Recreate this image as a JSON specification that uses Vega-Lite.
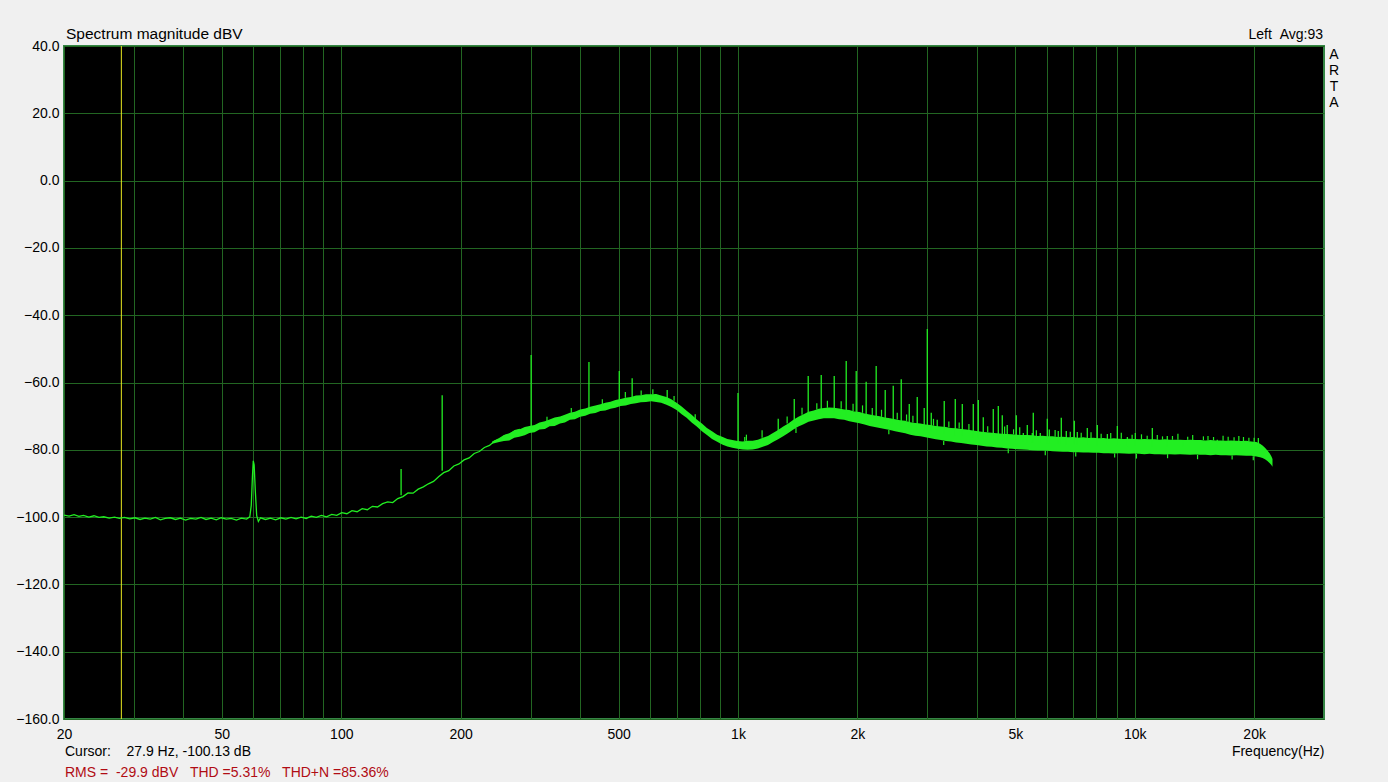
{
  "$schema": "https://vega.github.io/schema/vega-lite/v6.json",
  "width": 1260,
  "height": 673,
  "autosize": {"type": "none"},
  "padding": {"left": 64, "top": 46, "right": 64, "bottom": 63},
  "background": "#f0f0f0",
  "config": {
    "font": "Liberation Sans",
    "view": {"fill": "#000000", "stroke": "#358545", "strokeWidth": 2},
    "axis": {
      "domain": false,
      "ticks": false,
      "grid": true,
      "gridColor": "#226622",
      "gridOpacity": 1,
      "gridWidth": 1,
      "labelFont": "Liberation Sans",
      "labelFontSize": 14,
      "labelColor": "#000000",
      "titleFont": "Liberation Sans",
      "titleFontSize": 14,
      "titleFontWeight": "normal",
      "titleColor": "#000000"
    }
  },
  "datasets": {
    "low": [
      {"f": 20, "v": -99.4}, {"f": 20.6, "v": -99.7}, {"f": 21.2, "v": -99.3}, {"f": 21.8, "v": -99.8},
      {"f": 22.4, "v": -99.5}, {"f": 23.1, "v": -100.0}, {"f": 23.8, "v": -99.6}, {"f": 24.5, "v": -100.1},
      {"f": 25.2, "v": -99.9}, {"f": 26, "v": -100.3}, {"f": 26.8, "v": -100.0}, {"f": 27.6, "v": -100.4},
      {"f": 28.4, "v": -100.1}, {"f": 29.3, "v": -100.5}, {"f": 30.2, "v": -100.2}, {"f": 31.1, "v": -100.7},
      {"f": 32, "v": -100.3}, {"f": 33, "v": -100.6}, {"f": 34, "v": -100.1}, {"f": 35, "v": -100.8},
      {"f": 36, "v": -100.4}, {"f": 37.1, "v": -100.2}, {"f": 38.2, "v": -100.7}, {"f": 39.3, "v": -100.3},
      {"f": 40.5, "v": -100.9}, {"f": 41.7, "v": -100.4}, {"f": 43, "v": -100.6}, {"f": 44.3, "v": -100.1},
      {"f": 45.6, "v": -100.7}, {"f": 47, "v": -100.3}, {"f": 48.4, "v": -100.8}, {"f": 49.8, "v": -100.2},
      {"f": 51.3, "v": -100.6}, {"f": 52.8, "v": -100.4}, {"f": 54.4, "v": -100.9}, {"f": 56, "v": -100.3},
      {"f": 57.7, "v": -100.6}, {"f": 58.8, "v": -99.9}, {"f": 59.3, "v": -96.5}, {"f": 59.7, "v": -88},
      {"f": 60, "v": -83.3}, {"f": 60.3, "v": -84.5}, {"f": 60.7, "v": -92}, {"f": 61.2, "v": -99.6},
      {"f": 61.8, "v": -101.3}, {"f": 62.6, "v": -100.2}, {"f": 64.4, "v": -100.7}, {"f": 66.3, "v": -100.3},
      {"f": 68.3, "v": -100.8}, {"f": 70.4, "v": -100.2}, {"f": 72.5, "v": -100.6}, {"f": 74.7, "v": -100.1},
      {"f": 76.9, "v": -100.5}, {"f": 79.2, "v": -100.0}, {"f": 81.6, "v": -100.4}, {"f": 84, "v": -99.7},
      {"f": 86.5, "v": -100.1}, {"f": 89.1, "v": -99.5}, {"f": 91.8, "v": -99.9}, {"f": 94.6, "v": -99.2},
      {"f": 97.4, "v": -99.5}, {"f": 100.3, "v": -98.7}, {"f": 103.3, "v": -99.0}, {"f": 106.4, "v": -98.1},
      {"f": 109.6, "v": -98.4}, {"f": 112.9, "v": -97.5}, {"f": 116.3, "v": -97.8}, {"f": 119.8, "v": -96.8},
      {"f": 123.4, "v": -97.0}, {"f": 127.1, "v": -96.0}, {"f": 130.9, "v": -95.5}, {"f": 134.8, "v": -95.7},
      {"f": 138.8, "v": -94.5}, {"f": 143, "v": -93.9}, {"f": 147.3, "v": -92.8}, {"f": 151.7, "v": -92.9},
      {"f": 156.3, "v": -91.7}, {"f": 161, "v": -91.0}, {"f": 165.8, "v": -90.1}, {"f": 170.8, "v": -89.4},
      {"f": 175.9, "v": -88.0}, {"f": 181.2, "v": -86.8}, {"f": 186.6, "v": -86.2}, {"f": 192.2, "v": -84.8},
      {"f": 198, "v": -84.2}, {"f": 203.9, "v": -83.0}, {"f": 210, "v": -82.4}, {"f": 216.3, "v": -81.1},
      {"f": 222.8, "v": -80.5}, {"f": 229.5, "v": -79.3}, {"f": 236.4, "v": -78.7}, {"f": 243.5, "v": -77.4},
      {"f": 250.8, "v": -76.9}, {"f": 258.3, "v": -75.8}, {"f": 266, "v": -75.4}, {"f": 274, "v": -74.3},
      {"f": 282, "v": -73.9}
    ],
    "band": [
      {"f": 240, "lo": -78.2, "hi": -77.5}, {"f": 250, "lo": -77.7, "hi": -76.5}, {"f": 257, "lo": -77.4, "hi": -75.6}, {"f": 265, "lo": -77.2, "hi": -75.1},
      {"f": 273, "lo": -76.4, "hi": -74.3}, {"f": 281, "lo": -76.1, "hi": -74.0}, {"f": 290, "lo": -75.7, "hi": -73.2},
      {"f": 298, "lo": -75.0, "hi": -72.9}, {"f": 307, "lo": -74.8, "hi": -72.6}, {"f": 316, "lo": -74.0, "hi": -71.9},
      {"f": 326, "lo": -73.8, "hi": -71.5}, {"f": 335, "lo": -73.0, "hi": -71.0}, {"f": 345, "lo": -72.9, "hi": -70.4},
      {"f": 356, "lo": -72.2, "hi": -70.1}, {"f": 366, "lo": -71.9, "hi": -69.6}, {"f": 377, "lo": -71.1, "hi": -69.0},
      {"f": 388, "lo": -70.9, "hi": -68.7}, {"f": 400, "lo": -70.2, "hi": -68.0}, {"f": 412, "lo": -69.9, "hi": -67.7},
      {"f": 424, "lo": -69.3, "hi": -67.2}, {"f": 437, "lo": -69.1, "hi": -66.8}, {"f": 450, "lo": -68.5, "hi": -66.5},
      {"f": 463, "lo": -68.3, "hi": -66.0}, {"f": 477, "lo": -67.8, "hi": -65.7}, {"f": 491, "lo": -67.5, "hi": -65.2},
      {"f": 506, "lo": -67.0, "hi": -64.9}, {"f": 521, "lo": -66.8, "hi": -64.5}, {"f": 537, "lo": -66.4, "hi": -64.3},
      {"f": 553, "lo": -66.2, "hi": -63.9}, {"f": 569, "lo": -65.9, "hi": -63.8}, {"f": 586, "lo": -65.8, "hi": -63.5},
      {"f": 604, "lo": -65.6, "hi": -63.5}, {"f": 622, "lo": -65.8, "hi": -63.4}, {"f": 640, "lo": -66.0, "hi": -63.9},
      {"f": 660, "lo": -66.6, "hi": -64.3}, {"f": 679, "lo": -67.3, "hi": -65.0}, {"f": 700, "lo": -68.2, "hi": -66.0},
      {"f": 721, "lo": -69.4, "hi": -67.1}, {"f": 742, "lo": -70.5, "hi": -68.4}, {"f": 764, "lo": -71.9, "hi": -69.6},
      {"f": 787, "lo": -73.1, "hi": -71.0}, {"f": 811, "lo": -74.5, "hi": -72.2}, {"f": 835, "lo": -75.6, "hi": -73.5},
      {"f": 860, "lo": -76.8, "hi": -74.5}, {"f": 886, "lo": -77.6, "hi": -75.5}, {"f": 912, "lo": -78.4, "hi": -76.1},
      {"f": 940, "lo": -79.0, "hi": -76.8}, {"f": 968, "lo": -79.4, "hi": -77.1}, {"f": 997, "lo": -79.7, "hi": -77.4},
      {"f": 1027, "lo": -79.9, "hi": -77.5}, {"f": 1057, "lo": -80.0, "hi": -77.3}, {"f": 1089, "lo": -79.9, "hi": -77.3},
      {"f": 1122, "lo": -79.6, "hi": -77.0}, {"f": 1155, "lo": -79.1, "hi": -76.4}, {"f": 1190, "lo": -78.6, "hi": -75.9},
      {"f": 1225, "lo": -77.7, "hi": -75.0}, {"f": 1262, "lo": -76.9, "hi": -74.1}, {"f": 1300, "lo": -76.0, "hi": -73.1},
      {"f": 1339, "lo": -75.0, "hi": -72.2}, {"f": 1379, "lo": -74.0, "hi": -71.1}, {"f": 1420, "lo": -73.1, "hi": -70.2},
      {"f": 1463, "lo": -72.4, "hi": -69.4}, {"f": 1506, "lo": -71.7, "hi": -68.7}, {"f": 1552, "lo": -71.3, "hi": -68.3},
      {"f": 1598, "lo": -70.9, "hi": -67.8}, {"f": 1646, "lo": -70.6, "hi": -67.6}, {"f": 1695, "lo": -70.6, "hi": -67.4},
      {"f": 1746, "lo": -70.6, "hi": -67.5}, {"f": 1798, "lo": -70.9, "hi": -67.7}, {"f": 1852, "lo": -71.1, "hi": -68.0},
      {"f": 1908, "lo": -71.5, "hi": -68.2}, {"f": 1965, "lo": -71.8, "hi": -68.6}, {"f": 2024, "lo": -72.1, "hi": -68.8},
      {"f": 2084, "lo": -72.5, "hi": -69.2}, {"f": 2147, "lo": -72.9, "hi": -69.5}, {"f": 2211, "lo": -73.2, "hi": -69.8},
      {"f": 2277, "lo": -73.5, "hi": -70.0}, {"f": 2345, "lo": -73.8, "hi": -70.4}, {"f": 2416, "lo": -74.1, "hi": -70.6},
      {"f": 2488, "lo": -74.5, "hi": -70.9}, {"f": 2562, "lo": -74.8, "hi": -71.2}, {"f": 2639, "lo": -75.1, "hi": -71.4},
      {"f": 2718, "lo": -75.5, "hi": -71.8}, {"f": 2800, "lo": -75.8, "hi": -72.0}, {"f": 2884, "lo": -76.0, "hi": -72.2},
      {"f": 2970, "lo": -76.3, "hi": -72.5}, {"f": 3059, "lo": -76.6, "hi": -72.6}, {"f": 3151, "lo": -76.9, "hi": -72.9},
      {"f": 3245, "lo": -77.1, "hi": -73.1}, {"f": 3342, "lo": -77.4, "hi": -73.2}, {"f": 3442, "lo": -77.5, "hi": -73.5},
      {"f": 3546, "lo": -77.8, "hi": -73.6}, {"f": 3652, "lo": -78.0, "hi": -73.8}, {"f": 3761, "lo": -78.2, "hi": -74.0},
      {"f": 3874, "lo": -78.4, "hi": -74.2}, {"f": 3990, "lo": -78.6, "hi": -74.4}, {"f": 4110, "lo": -78.8, "hi": -74.6},
      {"f": 4233, "lo": -79.0, "hi": -74.8}, {"f": 4360, "lo": -79.1, "hi": -74.9}, {"f": 4490, "lo": -79.3, "hi": -75.1},
      {"f": 4625, "lo": -79.4, "hi": -75.2}, {"f": 4764, "lo": -79.6, "hi": -75.3}, {"f": 4906, "lo": -79.7, "hi": -75.4},
      {"f": 5053, "lo": -79.8, "hi": -75.5}, {"f": 5205, "lo": -79.9, "hi": -75.6}, {"f": 5361, "lo": -80.0, "hi": -75.6},
      {"f": 5521, "lo": -80.1, "hi": -75.7}, {"f": 5687, "lo": -80.2, "hi": -75.9}, {"f": 5857, "lo": -80.2, "hi": -75.8},
      {"f": 6033, "lo": -80.3, "hi": -76.0}, {"f": 6214, "lo": -80.4, "hi": -76.0}, {"f": 6400, "lo": -80.5, "hi": -76.2},
      {"f": 6592, "lo": -80.6, "hi": -76.1}, {"f": 6790, "lo": -80.6, "hi": -76.3}, {"f": 6993, "lo": -80.7, "hi": -76.2},
      {"f": 7203, "lo": -80.7, "hi": -76.4}, {"f": 7419, "lo": -80.8, "hi": -76.3}, {"f": 7641, "lo": -80.8, "hi": -76.5},
      {"f": 7871, "lo": -80.9, "hi": -76.4}, {"f": 8107, "lo": -80.9, "hi": -76.6}, {"f": 8350, "lo": -81.0, "hi": -76.5},
      {"f": 8600, "lo": -81.0, "hi": -76.7}, {"f": 8858, "lo": -81.1, "hi": -76.6}, {"f": 9124, "lo": -81.0, "hi": -76.7},
      {"f": 9397, "lo": -81.1, "hi": -76.8}, {"f": 9679, "lo": -81.2, "hi": -76.7}, {"f": 9970, "lo": -81.1, "hi": -76.8},
      {"f": 10269, "lo": -81.2, "hi": -76.9}, {"f": 10577, "lo": -81.3, "hi": -76.8}, {"f": 10894, "lo": -81.2, "hi": -76.9},
      {"f": 11221, "lo": -81.3, "hi": -76.9}, {"f": 11557, "lo": -81.3, "hi": -77.0}, {"f": 11904, "lo": -81.4, "hi": -76.9},
      {"f": 12261, "lo": -81.3, "hi": -77.0}, {"f": 12629, "lo": -81.4, "hi": -77.0}, {"f": 13008, "lo": -81.3, "hi": -77.0},
      {"f": 13398, "lo": -81.4, "hi": -77.1}, {"f": 13800, "lo": -81.5, "hi": -77.0}, {"f": 14214, "lo": -81.4, "hi": -77.1},
      {"f": 14641, "lo": -81.5, "hi": -77.1}, {"f": 15080, "lo": -81.5, "hi": -77.2}, {"f": 15532, "lo": -81.6, "hi": -77.1},
      {"f": 15998, "lo": -81.5, "hi": -77.2}, {"f": 16478, "lo": -81.6, "hi": -77.2}, {"f": 16973, "lo": -81.6, "hi": -77.3},
      {"f": 17482, "lo": -81.7, "hi": -77.2}, {"f": 18006, "lo": -81.6, "hi": -77.3}, {"f": 18547, "lo": -81.7, "hi": -77.4},
      {"f": 19103, "lo": -81.8, "hi": -77.3}, {"f": 19676, "lo": -81.8, "hi": -77.5}, {"f": 20266, "lo": -82.0, "hi": -77.7},
      {"f": 20700, "lo": -82.2, "hi": -78.2}, {"f": 21000, "lo": -82.4, "hi": -78.7}, {"f": 21300, "lo": -82.8, "hi": -79.4},
      {"f": 21600, "lo": -83.3, "hi": -80.2}, {"f": 21900, "lo": -84.0, "hi": -81.1}, {"f": 22100, "lo": -84.5, "hi": -81.9},
      {"f": 22250, "lo": -85.0, "hi": -82.7}
    ],
    "spikes": [
      {"f": 141.5, "base": -93.5, "peak": -85.7}, {"f": 179.6, "base": -86.2, "peak": -63.8},
      {"f": 301, "base": -74, "peak": -51.8}, {"f": 421, "base": -68.2, "peak": -53.9},
      {"f": 502, "base": -66, "peak": -56.6}, {"f": 541, "base": -65.4, "peak": -58.7},
      {"f": 663, "base": -65.5, "peak": -62.2}, {"f": 780, "base": -72, "peak": -69.4},
      {"f": 1000, "base": -78.6, "peak": -63.1}, {"f": 1263, "base": -75.5, "peak": -70.8},
      {"f": 1386, "base": -72.5, "peak": -64.9}, {"f": 1503, "base": -70.3, "peak": -58.1},
      {"f": 1621, "base": -69.2, "peak": -57.8}, {"f": 1748, "base": -69.1, "peak": -58.1},
      {"f": 1874, "base": -69.7, "peak": -53.6}, {"f": 1986, "base": -70.3, "peak": -56.6},
      {"f": 2104, "base": -71, "peak": -59.8}, {"f": 2230, "base": -71.6, "peak": -55.1},
      {"f": 2350, "base": -72.1, "peak": -62.2}, {"f": 2462, "base": -72.6, "peak": -61},
      {"f": 2579, "base": -73.1, "peak": -59}, {"f": 2702, "base": -73.5, "peak": -66.4},
      {"f": 2830, "base": -73.9, "peak": -64.3}, {"f": 2947, "base": -74.3, "peak": -67.6},
      {"f": 3000, "base": -74.4, "peak": -44.1}, {"f": 3070, "base": -74.6, "peak": -69},
      {"f": 3178, "base": -74.9, "peak": -71.1}, {"f": 3310, "base": -75.3, "peak": -65.5},
      {"f": 3529, "base": -75.7, "peak": -64.9}, {"f": 3676, "base": -75.9, "peak": -66.4},
      {"f": 3918, "base": -76.4, "peak": -66.4}, {"f": 4034, "base": -76.6, "peak": -65.2},
      {"f": 4152, "base": -76.8, "peak": -70.3}, {"f": 4400, "base": -77.1, "peak": -67.9},
      {"f": 4530, "base": -77.2, "peak": -67}, {"f": 4636, "base": -77.3, "peak": -69.7},
      {"f": 4771, "base": -77.4, "peak": -72.6}, {"f": 5029, "base": -77.6, "peak": -69.7},
      {"f": 5238, "base": -77.7, "peak": -75}, {"f": 5360, "base": -77.8, "peak": -72.6},
      {"f": 5518, "base": -77.9, "peak": -75}, {"f": 5550, "base": -77.9, "peak": -69},
      {"f": 5780, "base": -78, "peak": -75}, {"f": 6020, "base": -78.1, "peak": -70.8},
      {"f": 6090, "base": -78.1, "peak": -74}, {"f": 6416, "base": -78.3, "peak": -74.4},
      {"f": 6530, "base": -78.3, "peak": -70.5}, {"f": 6722, "base": -78.4, "peak": -74.4},
      {"f": 7042, "base": -78.4, "peak": -71.4}, {"f": 7166, "base": -78.5, "peak": -74.7},
      {"f": 7594, "base": -78.6, "peak": -73.5}, {"f": 8048, "base": -78.7, "peak": -72.6},
      {"f": 8532, "base": -78.7, "peak": -75.3}, {"f": 9040, "base": -78.8, "peak": -72.9},
      {"f": 9582, "base": -78.9, "peak": -76.2}, {"f": 10034, "base": -78.9, "peak": -75},
      {"f": 11076, "base": -79, "peak": -73.5}, {"f": 12080, "base": -79.1, "peak": -75.9},
      {"f": 13260, "base": -79.1, "peak": -77.3}, {"f": 16150, "base": -79.3, "peak": -77},
      {"f": 20494, "base": -79.7, "peak": -76.5}
    ],
    "grass": [
      {"f": 330, "a": -71.6, "b": -70.2}, {"f": 380, "a": -69.0, "b": -67.6}, {"f": 455, "a": -66.4, "b": -65.0},
      {"f": 520, "a": -64.5, "b": -62.8}, {"f": 570, "a": -63.8, "b": -62.4}, {"f": 610, "a": -63.5, "b": -62.0},
      {"f": 690, "a": -65.4, "b": -64.0}, {"f": 1040, "a": -77.5, "b": -76.2},
      {"f": 1050, "a": -77.3, "b": -75.5}, {"f": 1150, "a": -76.4, "b": -74.2}, {"f": 1330, "a": -72.2, "b": -70.1},
      {"f": 1450, "a": -69.6, "b": -67.5}, {"f": 1580, "a": -68.0, "b": -66.2}, {"f": 1680, "a": -67.5, "b": -65.4},
      {"f": 1820, "a": -67.8, "b": -65.6}, {"f": 1950, "a": -68.5, "b": -66.3}, {"f": 2060, "a": -69.0, "b": -66.8},
      {"f": 2180, "a": -69.7, "b": -67.6}, {"f": 2300, "a": -70.2, "b": -68.1}, {"f": 2520, "a": -71.0, "b": -69.0},
      {"f": 2660, "a": -71.4, "b": -69.5}, {"f": 2760, "a": -71.9, "b": -69.9}, {"f": 3110, "a": -72.8, "b": -70.8},
      {"f": 3400, "a": -73.3, "b": -71.6}, {"f": 3610, "a": -73.7, "b": -71.9}, {"f": 3820, "a": -74.1, "b": -72.3},
      {"f": 4260, "a": -74.8, "b": -73.0}, {"f": 4700, "a": -75.3, "b": -73.1}, {"f": 4950, "a": -75.4, "b": -73.9},
      {"f": 5130, "a": -75.5, "b": -73.3}, {"f": 5650, "a": -75.9, "b": -74.2}, {"f": 6300, "a": -76.1, "b": -74.1},
      {"f": 6880, "a": -76.3, "b": -74.6}, {"f": 7330, "a": -76.4, "b": -74.9}, {"f": 7760, "a": -76.5, "b": -74.8},
      {"f": 8230, "a": -76.6, "b": -75.2}, {"f": 8700, "a": -76.7, "b": -75.0}, {"f": 9250, "a": -76.7, "b": -74.9},
      {"f": 9850, "a": -76.8, "b": -75.5}, {"f": 10400, "a": -76.9, "b": -75.4}, {"f": 10750, "a": -76.9, "b": -75.8},
      {"f": 11400, "a": -77.0, "b": -75.6}, {"f": 11750, "a": -77.0, "b": -76.0}, {"f": 12450, "a": -77.0, "b": -75.9},
      {"f": 12850, "a": -77.0, "b": -75.2}, {"f": 13600, "a": -77.0, "b": -76.1}, {"f": 14000, "a": -77.1, "b": -75.6},
      {"f": 14900, "a": -77.1, "b": -76.0}, {"f": 15300, "a": -77.2, "b": -75.9}, {"f": 15800, "a": -77.2, "b": -76.2},
      {"f": 16700, "a": -77.3, "b": -75.8}, {"f": 17200, "a": -77.3, "b": -76.1}, {"f": 17800, "a": -77.3, "b": -76.3},
      {"f": 18300, "a": -77.4, "b": -75.9}, {"f": 18800, "a": -77.4, "b": -76.2}, {"f": 19400, "a": -77.4, "b": -76.4},
      {"f": 20000, "a": -77.6, "b": -76.4},
      {"f": 1400, "a": -73.5, "b": -75.0}, {"f": 2400, "a": -74.1, "b": -75.4}, {"f": 3300, "a": -77.4, "b": -78.6},
      {"f": 4800, "a": -79.6, "b": -81.0}, {"f": 5950, "a": -80.3, "b": -81.6}, {"f": 7100, "a": -80.7, "b": -82.0},
      {"f": 8900, "a": -81.1, "b": -82.3}, {"f": 10100, "a": -81.2, "b": -82.6}, {"f": 12100, "a": -81.3, "b": -82.5},
      {"f": 14400, "a": -81.5, "b": -82.8}, {"f": 17600, "a": -81.7, "b": -82.9}, {"f": 19900, "a": -81.9, "b": -83.1}
    ]
  },
  "layer": [
    {
      "data": {"values": [{"f": 27.9}]},
      "mark": {"type": "rule", "color": "#e8e820", "strokeWidth": 1},
      "encoding": {
        "x": {
          "field": "f",
          "type": "quantitative",
          "scale": {"type": "log", "domain": [20, 30000], "nice": false},
          "axis": {
            "title": "Frequency(Hz)",
            "titleAnchor": "end",
            "titleAlign": "right",
            "titlePadding": 3,
            "labelPadding": 8,
            "labelOverlap": false,
            "labelFlush": false,
            "labelBound": false,
            "values": [20, 30, 40, 50, 60, 70, 80, 90, 100, 200, 300, 400, 500, 600, 700, 800, 900, 1000, 2000, 3000, 4000, 5000, 6000, 7000, 8000, 9000, 10000, 20000],
            "labelExpr": "indexof([20, 50, 100, 200, 500, 1000, 2000, 5000, 10000, 20000], datum.value) >= 0 ? (datum.value >= 1000 ? (datum.value / 1000) + 'k' : datum.value + '') : ''"
          }
        }
      }
    },
    {
      "data": {"name": "band"},
      "mark": {"type": "area", "color": "#22ee22", "opacity": 1},
      "encoding": {
        "x": {"field": "f", "type": "quantitative"},
        "y": {
          "field": "lo",
          "type": "quantitative",
          "scale": {"domain": [-160, 40], "nice": false, "zero": false},
          "axis": {
            "title": null,
            "values": [-160, -140, -120, -100, -80, -60, -40, -20, 0, 20, 40],
            "labelExpr": "format(datum.value, '.1f')",
            "labelPadding": 5
          }
        },
        "y2": {"field": "hi"}
      }
    },
    {
      "data": {"name": "low"},
      "mark": {"type": "line", "color": "#22ee22", "strokeWidth": 1.3},
      "encoding": {
        "x": {"field": "f", "type": "quantitative"},
        "y": {"field": "v", "type": "quantitative"}
      }
    },
    {
      "data": {"name": "grass"},
      "mark": {"type": "rule", "color": "#22ee22", "strokeWidth": 1.2},
      "encoding": {
        "x": {"field": "f", "type": "quantitative"},
        "y": {"field": "a", "type": "quantitative"},
        "y2": {"field": "b"}
      }
    },
    {
      "data": {"name": "spikes"},
      "mark": {"type": "rule", "color": "#22ee22", "strokeWidth": 1.3},
      "encoding": {
        "x": {"field": "f", "type": "quantitative"},
        "y": {"field": "base", "type": "quantitative"},
        "y2": {"field": "peak"}
      }
    },
    {
      "data": {"values": [{"f": 20, "v": 40, "t": "Spectrum magnitude dBV"}]},
      "mark": {"type": "text", "align": "left", "baseline": "alphabetic", "dy": -7, "dx": 2, "fontSize": 15.5, "color": "#000000"},
      "encoding": {
        "x": {"field": "f", "type": "quantitative"},
        "y": {"field": "v", "type": "quantitative"},
        "text": {"field": "t"}
      }
    },
    {
      "data": {"values": [{"f": 30000, "v": 40, "t": "Left\u00a0\u00a0Avg:93"}]},
      "mark": {"type": "text", "align": "right", "baseline": "alphabetic", "dy": -7, "dx": -1, "fontSize": 14, "color": "#000000"},
      "encoding": {
        "x": {"field": "f", "type": "quantitative"},
        "y": {"field": "v", "type": "quantitative"},
        "text": {"field": "t"}
      }
    },
    {
      "data": {"values": [{"f": 30000, "v": 40, "t": "A\nR\nT\nA"}]},
      "mark": {"type": "text", "align": "center", "baseline": "top", "dx": 10, "dy": 2, "fontSize": 14, "lineHeight": 16, "lineBreak": "\n", "color": "#000000"},
      "encoding": {
        "x": {"field": "f", "type": "quantitative"},
        "y": {"field": "v", "type": "quantitative"},
        "text": {"field": "t"}
      }
    },
    {
      "data": {"values": [{"f": 20, "v": -160, "t": "Cursor:\u00a0\u00a0\u00a0\u00a027.9 Hz, -100.13 dB"}]},
      "mark": {"type": "text", "align": "left", "baseline": "middle", "dx": 1, "dy": 33, "fontSize": 14, "color": "#000000"},
      "encoding": {
        "x": {"field": "f", "type": "quantitative"},
        "y": {"field": "v", "type": "quantitative"},
        "text": {"field": "t"}
      }
    },
    {
      "data": {"values": [{"f": 20, "v": -160, "t": "RMS =\u00a0\u00a0-29.9 dBV\u00a0\u00a0\u00a0THD =5.31%\u00a0\u00a0\u00a0THD+N =85.36%"}]},
      "mark": {"type": "text", "align": "left", "baseline": "middle", "dx": 1, "dy": 54, "fontSize": 14, "color": "#b00c14"},
      "encoding": {
        "x": {"field": "f", "type": "quantitative"},
        "y": {"field": "v", "type": "quantitative"},
        "text": {"field": "t"}
      }
    }
  ]
}
